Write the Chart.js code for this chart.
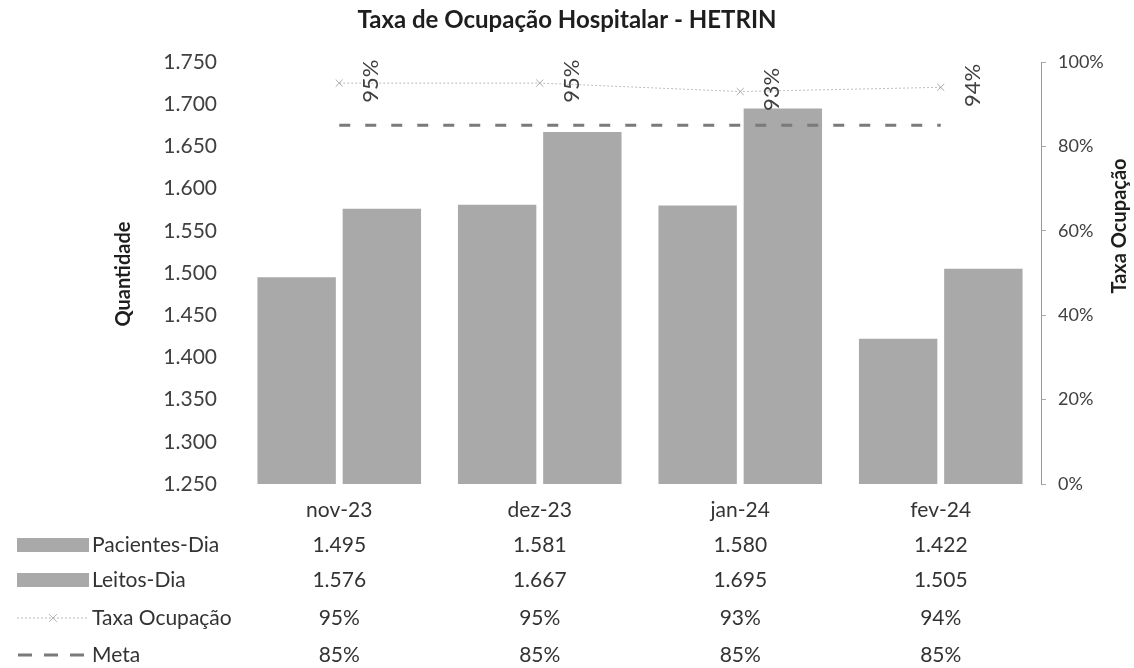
<!DOCTYPE html>
<html><head><meta charset="utf-8">
<script src="https://cdn.jsdelivr.net/npm/chart.js@4"></script>
<style>html,body{margin:0;padding:0;background:#fff}#wrap{width:1134px;height:668px;position:relative}</style>
</head><body><div id="wrap"><canvas id="c" width="1134" height="668"></canvas></div>
<script>
const categories = ['nov-23','dez-23','jan-24','fev-24'];
const pacientesDia = [1495,1581,1580,1422];
const leitosDia = [1576,1667,1695,1505];
const taxaOcupacao = [95,95,93,94];
const meta = [85,85,85,85];
const leftTicks = [1250,1300,1350,1400,1450,1500,1550,1600,1650,1700,1750];
const rightTicks = [0,20,40,60,80,100];

const FONT = 'Lato, "Open Sans", sans-serif';
const TXT = '#404040';
const BAR = '#a9a9a9';
function fmtThousand(v){ const s=String(Math.round(v)); return s.length>3 ? s.slice(0,-3)+'.'+s.slice(-3) : s; }

const extras = {
  id:'extras',
  afterDraw(chart){
    const ctx = chart.ctx, xs = chart.scales.x;
    ctx.save();
    ctx.fillStyle = '#1e1e1e'; ctx.font = 'bold 24px '+FONT; ctx.textAlign='center'; ctx.textBaseline='middle';
    ctx.fillText('Taxa de Ocupação Hospitalar - HETRIN', 567, 20);
    ctx.font = 'bold 20px '+FONT; ctx.fillStyle='#1e1e1e';
    ctx.save(); ctx.translate(124, 274); ctx.rotate(-Math.PI/2); ctx.fillText('Quantidade',0,0); ctx.restore();
    ctx.save(); ctx.translate(1120, 226); ctx.rotate(-Math.PI/2); ctx.fillText('Taxa Ocupação',0,0); ctx.restore();
    const m = chart.getDatasetMeta(2);
    ctx.font = '22px '+FONT; ctx.fillStyle = TXT;
    m.data.forEach((p,i)=>{
      ctx.save(); ctx.translate(p.x+32, p.y-2); ctx.rotate(-Math.PI/2);
      ctx.fillText(taxaOcupacao[i]+'%',0,0); ctx.restore();
    });
    const rowsY = [510,545,580,618,655];
    ctx.font = '21px '+FONT; ctx.fillStyle = '#333'; ctx.textAlign='center';
    categories.forEach((c,i)=>{
      const x = xs.getPixelForValue(i);
      ctx.fillText(c, x, rowsY[0]);
      ctx.fillText(fmtThousand(pacientesDia[i]), x, rowsY[1]);
      ctx.fillText(fmtThousand(leitosDia[i]), x, rowsY[2]);
      ctx.fillText(taxaOcupacao[i]+'%', x, rowsY[3]);
      ctx.fillText(meta[i]+'%', x, rowsY[4]);
    });
    ctx.textAlign='left';
    const names = ['Pacientes-Dia','Leitos-Dia','Taxa Ocupação','Meta'];
    names.forEach((n,k)=>{ ctx.fillText(n, 92, rowsY[k+1]); });
    ctx.fillStyle = BAR;
    ctx.fillRect(17, rowsY[1]-7, 72, 14);
    ctx.fillRect(17, rowsY[2]-7, 72, 14);
    ctx.strokeStyle = '#b8b8b8'; ctx.lineWidth=1; ctx.setLineDash([2,2]);
    ctx.beginPath(); ctx.moveTo(17, rowsY[3]); ctx.lineTo(89, rowsY[3]); ctx.stroke();
    ctx.setLineDash([]);
    ctx.beginPath(); ctx.moveTo(49,rowsY[3]-4); ctx.lineTo(57,rowsY[3]+4); ctx.moveTo(57,rowsY[3]-4); ctx.lineTo(49,rowsY[3]+4); ctx.stroke();
    ctx.strokeStyle = '#7a7a7a'; ctx.lineWidth=3; ctx.setLineDash([14,12]);
    ctx.beginPath(); ctx.moveTo(18, rowsY[4]); ctx.lineTo(89, rowsY[4]); ctx.stroke();
    ctx.restore();
  }
};

new Chart(document.getElementById('c'), {
  data: {
    labels: categories,
    datasets: [
      {type:'bar', label:'Pacientes-Dia', data:pacientesDia, backgroundColor:BAR, yAxisID:'y', order:3,
        categoryPercentage:0.85, barPercentage:0.92},
      {type:'bar', label:'Leitos-Dia', data:leitosDia, backgroundColor:BAR, yAxisID:'y', order:3,
        categoryPercentage:0.85, barPercentage:0.92},
      {type:'line', label:'Taxa Ocupação', data:taxaOcupacao, yAxisID:'y1', borderColor:'#bdbdbd', borderWidth:1,
        borderDash:[2,2], pointStyle:'crossRot', pointRadius:5, pointBorderColor:'#aaa', pointBorderWidth:1, order:1, fill:false},
      {type:'line', label:'Meta', data:meta, yAxisID:'y1', borderColor:'#7a7a7a', borderWidth:3,
        borderDash:[11,15], pointRadius:0, order:2, fill:false}
    ]
  },
  options: {
    responsive:false, animation:false, devicePixelRatio:1,
    layout:{padding:{top:62, bottom:184, left:0, right:0}},
    plugins:{legend:{display:false}, tooltip:{enabled:false}, title:{display:false}},
    scales:{
      x:{display:false, offset:true},
      y:{position:'left', min:1250, max:1750,
        afterBuildTicks(s){ s.ticks = leftTicks.map(v=>({value:v})); },
        afterFit(s){ s.width = 239; },
        grid:{display:false, drawTicks:false}, border:{display:false},
        ticks:{padding:22, color:TXT, font:{family:FONT, size:21}, callback:v=>fmtThousand(v)}},
      y1:{position:'right', min:0, max:100,
        afterBuildTicks(s){ s.ticks = rightTicks.map(v=>({value:v})); },
        afterFit(s){ s.width = 93; },
        grid:{drawOnChartArea:false, drawTicks:true, tickLength:5, color:'#aaa'},
        border:{display:true, color:'#999', dash:[1,1]},
        ticks:{padding:12, color:TXT, font:{family:FONT, size:18}, callback:v=>v+'%'}}
    }
  },
  plugins:[extras]
});
</script></body></html>
